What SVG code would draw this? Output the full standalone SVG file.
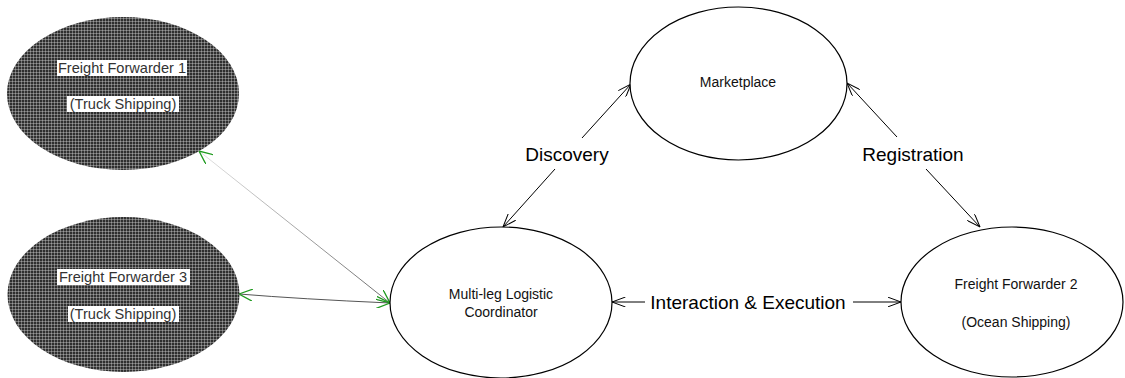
<svg xmlns="http://www.w3.org/2000/svg" width="1125" height="378" viewBox="0 0 1125 378">
  <defs>
    <style>
      .node { fill: #ffffff; stroke: #000000; stroke-width: 1.2; }
      .dark { fill: url(#hatch); stroke: none; }
      .ntext { font-family: "Liberation Sans", Arial, sans-serif; font-size: 14px; fill: #111111; text-anchor: middle; }
      .dtext { font-family: "Liberation Sans", Arial, sans-serif; font-size: 14.6px; fill: #333333; text-anchor: middle; }
      .label { font-family: "Liberation Sans", Arial, sans-serif; font-size: 19px; fill: #000000; text-anchor: middle; }
      .tbox { fill: #ffffff; }
      .edge { fill: none; stroke: #000000; stroke-width: 1; }
    </style>
    <!-- fine checkered fill of the dark nodes -->
    <pattern id="hatch" width="3" height="3" patternUnits="userSpaceOnUse">
      <rect width="3" height="3" fill="#2f2f2f"/>
      <rect x="0" y="0" width="3" height="1" fill="#707070"/>
      <rect x="0" y="0" width="1" height="3" fill="#707070"/>
      <rect x="0" y="0" width="1" height="1" fill="#9a9a9a"/>
    </pattern>
    <linearGradient id="fadeLine" gradientUnits="userSpaceOnUse" x1="199" y1="151" x2="390" y2="303">
      <stop offset="0" stop-color="#e4e4e4"/>
      <stop offset="1" stop-color="#6a6a6a"/>
    </linearGradient>
    <marker id="arrow" viewBox="0 0 14 10" refX="13.5" refY="5" markerWidth="14" markerHeight="10" markerUnits="userSpaceOnUse" orient="auto-start-reverse">
      <path d="M0,0 L13.5,5 L0,10" fill="none" stroke="#000000" stroke-width="1"/>
    </marker>
    <marker id="arrowGreen" viewBox="0 0 14 12" refX="13.5" refY="6" markerWidth="14" markerHeight="12" markerUnits="userSpaceOnUse" orient="auto-start-reverse">
      <path d="M0,0 L13.5,6 L0,12" fill="none" stroke="#1f9a1f" stroke-width="1.3"/>
    </marker>
  </defs>

  <rect width="1125" height="378" fill="#ffffff"/>

  <!-- connectors -->
  <g id="connectors">
    <line x1="199" y1="151" x2="390" y2="303" stroke="url(#fadeLine)" stroke-width="1" marker-start="url(#arrowGreen)" marker-end="url(#arrowGreen)"/>
    <path d="M239,294 Q300,299 390,303" fill="none" stroke="#555555" stroke-width="1" marker-start="url(#arrowGreen)" marker-end="url(#arrowGreen)"/>

    <path class="edge" d="M582,138 L631,84" marker-end="url(#arrow)"/>
    <path class="edge" d="M555,169 L503,227" marker-end="url(#arrow)"/>
    <text class="label" x="567" y="161">Discovery</text>

    <path class="edge" d="M897,137 L847,83" marker-end="url(#arrow)"/>
    <path class="edge" d="M926,169 L980,227" marker-end="url(#arrow)"/>
    <text class="label" x="913" y="161">Registration</text>

    <path class="edge" d="M645,302 L612,302" marker-end="url(#arrow)"/>
    <path class="edge" d="M853,302 L901,302" marker-end="url(#arrow)"/>
    <text class="label" x="748" y="309" font-size="19.7">Interaction &amp; Execution</text>
  </g>

  <g id="marketplace">
    <ellipse class="node" cx="738.5" cy="83.5" rx="108.5" ry="76.5"/>
    <text class="ntext" x="738" y="87">Marketplace</text>
  </g>

  <g id="coordinator">
    <ellipse class="node" cx="501" cy="302.5" rx="111" ry="75.5"/>
    <text class="ntext" x="501" y="299" font-size="15.3">Multi-leg Logistic</text>
    <text class="ntext" x="501" y="317" font-size="15.3">Coordinator</text>
  </g>

  <g id="forwarder2">
    <ellipse class="node" cx="1012" cy="302" rx="111" ry="75"/>
    <text class="ntext" x="1016" y="289" font-size="16">Freight Forwarder 2</text>
    <text class="ntext" x="1016" y="327" font-size="16">(Ocean Shipping)</text>
  </g>

  <g id="forwarder1">
    <ellipse class="dark" cx="123" cy="93.5" rx="116" ry="76.5"/>
    <rect class="tbox" x="57" y="60" width="130" height="16"/>
    <rect class="tbox" x="67" y="96" width="112" height="16"/>
    <text class="dtext" x="122" y="73">Freight Forwarder 1</text>
    <text class="dtext" x="123" y="109">(Truck Shipping)</text>
  </g>

  <g id="forwarder3">
    <ellipse class="dark" cx="123.5" cy="294.5" rx="116" ry="77.5"/>
    <rect class="tbox" x="57" y="269" width="133" height="16"/>
    <rect class="tbox" x="68" y="306" width="111" height="16"/>
    <text class="dtext" x="123" y="282">Freight Forwarder 3</text>
    <text class="dtext" x="123" y="319">(Truck Shipping)</text>
  </g>
</svg>
